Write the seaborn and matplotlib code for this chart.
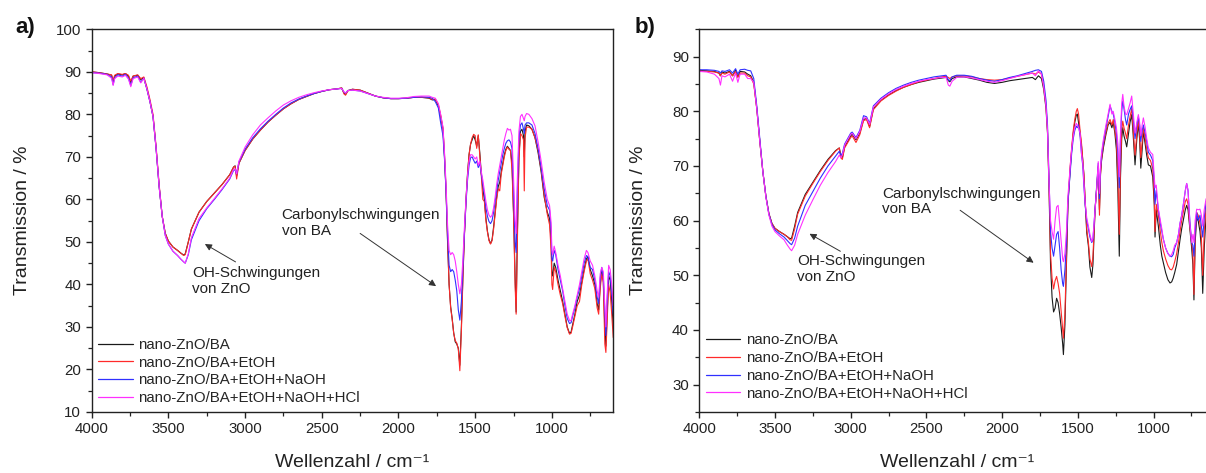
import numpy as np
import pandas as pd
import matplotlib
matplotlib.use("Agg")
import matplotlib.pyplot as plt
import seaborn as sns
from matplotlib.ticker import MultipleLocator

# ---------------- data ----------------
series_names = ["nano-ZnO/BA", "nano-ZnO/BA+EtOH",
                "nano-ZnO/BA+EtOH+NaOH", "nano-ZnO/BA+EtOH+NaOH+HCl"]
series_colors = ["#1a1a1a", "#ff2a2a", "#3030ff", "#ff30ff"]

x_ticks = [4000, 3500, 3000, 2500, 2000, 1500, 1000]
y_ticks_a = [10, 20, 30, 40, 50, 60, 70, 80, 90, 100]
y_ticks_b = [30, 40, 50, 60, 70, 80, 90]

wn_a = [4000, 3950, 3900, 3870, 3860, 3850, 3830, 3800, 3780, 3760, 3745, 3730, 3700, 3680, 3660,
        3640, 3620, 3600, 3580, 3560, 3540, 3520, 3500, 3470, 3440, 3420, 3400, 3390, 3370, 3350,
        3300, 3250, 3200, 3150, 3100, 3075, 3065, 3055, 3040, 3000, 2950, 2900, 2850, 2800, 2750,
        2700, 2650, 2600, 2550, 2500, 2450, 2400, 2370, 2355, 2345, 2330, 2300, 2250, 2200, 2150,
        2100, 2050, 2000, 1950, 1900, 1850, 1800, 1780, 1760, 1740, 1725, 1710, 1700, 1690, 1680,
        1670, 1660, 1650, 1640, 1630, 1620, 1610, 1600, 1590, 1580, 1570, 1560, 1550, 1540, 1530,
        1520, 1510, 1500, 1490, 1480, 1470, 1460, 1450, 1440, 1430, 1420, 1410, 1400, 1390, 1380,
        1370, 1360, 1350, 1340, 1330, 1320, 1310, 1300, 1290, 1280, 1270, 1260, 1250, 1240, 1233,
        1225, 1215, 1205, 1195, 1185, 1180, 1175, 1165, 1150, 1130, 1110, 1090, 1070, 1050, 1030,
        1015, 1005, 1000, 995, 985, 975, 960, 945, 930, 915, 900, 885, 875, 865, 850,
        835, 820, 805, 790, 775, 765, 750, 735, 720, 705, 695, 685, 675, 665, 655,
        648, 640, 630, 620, 610, 600]

a_black = [90.0, 89.8, 89.5, 89.2, 87.5, 89.0, 89.5, 89.3, 89.6, 89.0, 87.5, 89.0, 89.2, 88.2, 88.6,
           86.0, 83.0, 79.5, 72.0, 63.0, 56.0, 52.0, 50.2, 48.8, 48.0, 47.4, 46.9, 47.2, 50.0, 53.0,
           57.0, 59.5, 61.5, 63.5, 65.8, 67.6, 67.9, 65.5, 68.5, 71.5, 74.2, 76.3, 78.2, 79.8, 81.3,
           82.5, 83.5, 84.2, 84.9, 85.4, 85.8, 86.0, 86.2, 85.0, 84.7, 85.6, 85.9, 85.7, 85.0, 84.3,
           83.9, 83.7, 83.7, 83.8, 84.0, 84.0, 83.8, 83.4, 83.5, 82.0, 79.5, 76.5, 70.0, 62.0, 50.0,
           40.0, 34.8, 32.0, 28.6, 26.5, 26.0, 25.0, 21.0, 30.0, 42.0, 52.0, 60.0, 66.0, 70.5, 73.0,
           74.0, 75.0, 74.0, 72.5, 75.0, 71.0, 66.0, 62.5, 60.0, 55.5, 52.5, 50.5, 49.6, 50.5, 53.5,
           57.0, 60.5, 63.0, 64.0, 66.5, 68.5, 70.5, 71.8, 72.5, 72.0, 71.5, 68.5, 57.0, 42.0, 33.5,
           52.0, 70.0, 76.0, 76.5, 75.0, 70.0, 76.0, 77.5, 77.3, 76.5, 74.5, 71.0, 66.5, 60.5, 57.0,
           55.5, 50.0, 43.0, 42.0, 45.0, 44.0, 41.0, 38.5, 36.0, 33.0, 30.0, 28.5, 28.8, 30.5, 33.0,
           36.0, 37.5, 40.5, 43.5, 46.0, 46.5, 43.5, 42.0, 40.0, 35.5, 34.0, 40.0, 43.5, 41.0, 30.0,
           25.5, 33.0, 42.0, 41.0, 36.0, 30.0]

a_red = [90.0, 89.8, 89.5, 89.3, 88.0, 89.2, 89.6, 89.4, 89.6, 89.2, 87.8, 89.0, 89.3, 88.4, 88.8,
         86.5, 83.5, 80.0, 72.5, 63.5, 56.0, 52.0, 50.2, 48.8, 48.0, 47.4, 46.8, 47.0, 50.0, 53.0,
         57.0, 59.5, 61.5, 63.5, 65.8, 67.6, 67.8, 64.8, 68.5, 71.5, 74.2, 76.3, 78.2, 79.8, 81.3,
         82.5, 83.5, 84.2, 84.9, 85.4, 85.8, 86.0, 86.2, 84.8, 84.5, 85.5, 85.9, 85.7, 85.0, 84.3,
         83.9, 83.7, 83.7, 83.8, 84.0, 84.0, 83.9, 83.5, 83.6, 82.3, 79.8, 76.8, 70.5, 62.5, 50.5,
         40.0, 34.5, 31.8, 28.5, 26.8, 26.2, 24.8, 19.7, 29.0, 41.5, 51.5, 59.5, 65.5, 70.5, 73.0,
         74.5, 75.3, 75.0, 72.0, 75.2, 70.5, 65.5, 60.0, 59.5, 55.0, 52.3, 50.3, 49.5, 50.3, 53.0,
         56.5, 60.0, 62.5, 62.0, 66.0, 68.0, 70.0, 71.5, 72.3, 71.8, 71.5, 67.0, 56.5, 40.0, 33.0,
         50.0, 69.0, 75.5, 75.0, 74.0, 62.0, 74.5, 77.0, 77.0, 76.5, 74.5, 71.5, 67.0, 61.0, 56.5,
         54.0, 48.0, 40.0, 38.8, 44.0, 43.0, 40.0, 37.5, 35.5, 32.5, 29.8, 28.3, 28.5, 30.0, 32.5,
         35.0, 36.0, 40.0, 43.0, 45.5, 46.0, 42.5, 41.0, 39.0, 34.5, 33.0, 39.0, 42.5, 40.5, 26.0,
         24.0, 31.0, 40.0, 38.0, 33.0, 27.5]

a_blue = [89.8, 89.7, 89.4, 88.8, 87.0, 88.6, 89.3, 89.0, 89.4, 88.5, 86.8, 88.6, 89.0, 87.6, 88.5,
          86.0, 83.0, 79.5, 72.0, 63.0, 56.0, 51.5, 49.5, 47.8, 46.8, 46.0, 45.3, 45.0, 47.0, 50.5,
          55.0, 57.8, 60.0, 62.3, 64.8, 66.8, 67.0, 66.0, 68.8, 71.8, 74.5, 76.6, 78.4, 80.0, 81.5,
          82.7, 83.6, 84.3, 84.9, 85.4, 85.8, 86.0, 86.1, 85.2, 85.0, 85.6, 85.7, 85.5, 84.9, 84.3,
          83.9, 83.7, 83.7, 83.8, 84.0, 84.1, 84.0, 83.8, 83.0, 81.5, 78.0, 75.0, 69.5, 62.0, 52.0,
          44.5, 43.0, 43.5, 43.0, 41.0, 38.5, 34.0, 31.6, 36.0, 44.0, 52.0, 59.0, 64.5, 68.0, 69.8,
          70.0, 69.2, 68.5, 69.0, 67.5, 68.5, 66.0, 63.5, 61.0, 58.0, 56.0, 54.8, 54.3, 55.0, 57.0,
          59.5, 62.0, 64.5, 66.5, 68.5, 70.5, 72.0, 73.2, 73.8, 74.0, 73.5, 72.0, 62.0, 50.0, 47.5,
          62.0, 74.0, 77.5, 78.0, 76.5, 75.5, 77.5, 78.0, 78.0, 77.5, 75.5, 72.0, 67.5, 62.5, 58.5,
          57.5, 53.0, 46.0, 45.5, 48.0, 47.0, 43.5, 41.0, 38.5, 35.0, 32.0, 30.8, 31.0, 32.5, 34.5,
          37.0, 39.0, 42.0, 45.0, 46.8, 46.5, 44.0, 43.5, 41.0, 37.0, 35.5, 41.5, 44.0, 42.0, 34.0,
          28.0, 36.0, 43.0, 42.0, 38.0, 33.0]

a_magenta = [89.8, 89.6, 89.3, 88.5, 86.8, 88.4, 89.0, 88.8, 89.2, 88.3, 86.5, 88.4, 88.8, 87.4, 88.5,
             86.0, 83.0, 79.5, 72.0, 63.0, 56.0, 51.5, 49.5, 47.8, 46.8, 46.0, 45.3, 45.0, 47.2, 51.0,
             55.5, 58.0, 60.2, 62.5, 65.0, 67.0, 67.2, 66.0, 69.0, 72.3, 75.2, 77.5, 79.2, 80.8, 82.2,
             83.2, 84.0, 84.6, 85.1, 85.5, 85.8, 86.0, 86.1, 85.3, 85.0, 85.6, 85.7, 85.5, 84.9, 84.3,
             84.0, 83.8, 83.8, 83.9, 84.2, 84.3, 84.3, 84.0, 83.8, 82.5, 80.0, 77.0, 71.0, 63.5, 54.0,
             48.0, 47.0, 47.5, 47.0, 45.5, 43.0, 40.0, 37.8, 40.0, 46.0, 53.5, 60.0, 65.5, 69.0, 70.5,
             70.5, 70.0, 69.5, 70.0, 68.0, 69.0, 66.5, 64.5, 62.0, 59.5, 57.5, 56.3, 55.8, 56.3, 58.0,
             60.5, 63.5, 66.0, 68.0, 70.0, 72.0, 74.0, 75.5, 76.7, 76.3, 76.5, 75.0, 65.0, 55.0, 52.0,
             65.0, 76.0, 79.5, 80.0, 79.0, 78.5, 79.5, 80.2, 80.0, 79.0, 77.3, 73.5, 69.0, 64.0, 60.0,
             58.5, 54.5, 48.0, 47.0, 49.0, 47.5, 44.5, 42.0, 39.0, 36.0, 33.0, 31.5, 31.5, 33.0, 35.0,
             37.5, 40.0, 43.0, 46.0, 48.0, 47.5, 45.5, 44.5, 42.0, 38.5, 37.0, 42.5, 44.0, 43.0, 35.0,
             30.0, 37.5, 44.5, 43.5, 40.0, 35.0]

wn_b = [4000, 3950, 3900, 3870, 3860, 3850, 3830, 3800, 3780, 3760, 3745, 3730, 3700, 3680, 3660,
        3640, 3620, 3600, 3580, 3560, 3540, 3520, 3500, 3470, 3440, 3420, 3400, 3390, 3370, 3350,
        3300, 3250, 3200, 3150, 3100, 3075, 3065, 3055, 3040, 3000, 2990, 2965, 2940, 2915, 2895,
        2875, 2850, 2800, 2750, 2700, 2650, 2600, 2550, 2500, 2450, 2400, 2370, 2355, 2345, 2330,
        2300, 2250, 2200, 2150, 2100, 2050, 2000, 1950, 1900, 1850, 1800, 1780, 1760, 1740, 1725,
        1710, 1700, 1690, 1680, 1670, 1660, 1650, 1640, 1630, 1620, 1610, 1600, 1595, 1585, 1575,
        1565, 1550, 1540, 1530, 1520, 1510, 1503, 1495, 1485, 1475, 1467, 1460, 1452, 1441, 1430,
        1420, 1408, 1400, 1386, 1375, 1365, 1357, 1350, 1343, 1330, 1314, 1300, 1287, 1275, 1266,
        1255, 1245, 1235, 1226, 1218, 1210, 1203, 1195, 1185, 1177, 1165, 1155, 1144, 1135, 1122,
        1110, 1100, 1092, 1084, 1075, 1067, 1055, 1045, 1034, 1020, 1005, 995, 990, 982, 968,
        955, 945, 935, 920, 905, 891, 880, 870, 860, 847, 835, 825, 814, 800, 790,
        781, 772, 760, 748, 740, 733, 725, 715, 705, 693, 684, 675, 665, 653, 640,
        620, 600]

b_black = [87.5, 87.4, 87.3, 87.0, 86.5, 87.2, 87.0, 87.3, 86.5, 87.5, 86.3, 87.3, 87.2, 86.8, 86.5,
           85.3, 80.5, 74.5, 69.0, 64.5, 61.3, 59.5, 58.6, 58.0, 57.5, 57.1, 56.7, 56.8, 59.0, 61.5,
           64.8, 67.0, 69.2, 71.2, 72.8, 73.3, 72.0, 71.5, 73.5, 75.5, 75.8, 74.8, 76.0, 78.5, 78.7,
           77.2, 80.5, 82.0, 83.0, 83.8, 84.4, 84.9, 85.3, 85.6, 85.9, 86.1, 86.2, 85.6, 85.4, 86.0,
           86.3, 86.3, 86.0, 85.7, 85.3, 85.1, 85.3, 85.6, 85.8, 86.0, 86.2, 85.8, 86.5, 86.0, 84.0,
           80.5, 76.0, 66.0, 52.0, 46.0, 43.3, 44.0, 45.8, 45.0, 43.0, 40.5, 37.5, 35.5, 41.0, 52.0,
           63.0, 69.5, 73.0, 76.0, 78.0, 79.3, 79.5, 78.0, 76.0, 73.5, 71.0, 68.5, 64.0, 57.8, 55.4,
           51.5, 49.6, 52.0, 62.0, 66.0, 69.8, 62.0, 68.5, 71.0, 73.5, 75.8, 77.5, 78.0, 77.0, 78.0,
           76.0, 73.0, 65.0, 53.5, 68.0, 75.0, 77.0, 75.5, 74.5, 73.5, 76.0, 78.0, 79.4, 76.0, 70.2,
           75.0, 77.8, 75.0, 69.6, 73.0, 76.4, 74.0, 72.0, 70.2, 70.0, 68.0, 63.0, 57.0, 62.0, 59.0,
           55.5, 53.5, 52.3, 50.5, 49.2, 48.6, 48.8, 49.5, 50.5, 52.0, 54.5, 56.5, 58.5, 60.5, 62.0,
           62.8, 62.0, 58.5, 55.0, 52.0, 45.5, 56.0, 60.5, 60.0, 58.0, 55.0, 46.7, 55.0, 61.0, 60.0,
           57.0, 55.0]

b_red = [87.4, 87.3, 87.2, 87.0, 86.5, 87.0, 86.8, 87.2, 86.5, 87.3, 86.2, 87.0, 87.0, 86.5, 86.3,
         85.0, 80.5, 74.5, 69.0, 64.5, 61.3, 59.5, 58.6, 58.0, 57.5, 57.1, 56.5, 56.4, 58.5, 61.2,
         64.5, 66.8, 69.0, 71.0, 72.7, 73.3, 71.5, 71.2, 73.3, 75.2, 75.5, 74.3, 75.7, 78.3, 78.5,
         77.0, 80.3, 81.9, 82.9, 83.7, 84.4, 84.9, 85.4, 85.7, 86.0, 86.3, 86.4, 86.2, 86.0, 86.3,
         86.5, 86.5, 86.3, 86.0, 85.8, 85.7, 85.8, 86.1, 86.4, 86.7, 87.0, 86.8, 87.2, 86.8, 84.5,
         81.0, 76.5, 66.5, 54.0, 49.5, 47.5, 49.0, 49.8, 48.5, 46.7, 43.5, 40.5, 38.5, 43.0, 53.0,
         63.5, 70.0, 73.5, 76.5, 78.5, 80.0, 80.5, 79.5, 76.5, 74.0, 71.0, 68.5, 64.0, 58.5, 56.0,
         53.0, 51.6, 53.5, 62.0, 66.0, 70.0, 61.0, 68.5, 71.3, 74.0, 76.2, 77.8, 78.5, 77.5, 78.5,
         76.5, 74.5, 68.0, 57.5, 70.0, 76.5, 78.2, 77.0, 76.0, 75.0, 77.5, 79.0, 80.5, 77.0, 72.0,
         76.0, 78.5, 76.0, 71.5, 74.5, 77.0, 75.0, 73.0, 71.5, 71.0, 69.5, 64.0, 58.0, 63.0, 61.0,
         58.0, 56.0, 54.5, 53.0, 51.8, 51.1, 51.0, 51.5, 52.5, 54.0, 56.0, 58.0, 60.0, 62.0, 63.5,
         64.0, 63.0, 59.0, 56.0, 54.0, 46.5, 57.0, 61.5, 61.0, 59.5, 57.0, 50.0, 58.0, 62.5, 61.0,
         58.5, 57.0]

b_blue = [87.6, 87.6, 87.5, 87.3, 87.0, 87.4, 87.3, 87.6, 87.0, 87.8, 86.8, 87.6, 87.7, 87.5, 87.4,
          86.0, 81.0, 75.0, 69.0, 64.5, 61.2, 59.3, 58.3, 57.6, 57.0, 56.4, 55.8, 55.6, 56.8, 59.0,
          62.8, 65.3, 67.8, 70.0, 71.8, 72.7, 72.0, 72.3, 74.0, 76.0, 76.2, 75.2, 76.5, 79.2, 79.0,
          77.8, 81.0, 82.4, 83.4, 84.2, 84.8, 85.3, 85.7, 86.0, 86.3, 86.5, 86.6, 85.8, 85.6, 86.3,
          86.6, 86.6, 86.4, 86.0, 85.7, 85.5, 85.8, 86.2, 86.5, 86.9, 87.3, 87.5, 87.6, 87.3, 85.5,
          82.0, 77.5, 68.0, 58.0, 55.0, 53.5, 55.5, 57.5, 58.0, 55.0, 51.0, 48.5, 48.0, 51.0, 56.0,
          63.5, 69.0, 72.5, 75.0, 76.5, 77.3, 77.0, 77.5, 75.5, 72.0, 70.0, 66.5, 63.0, 60.0, 58.5,
          57.0, 56.0, 56.5, 62.0, 66.5, 70.5, 64.0, 69.5, 72.0, 74.5, 77.0, 79.0, 81.0, 80.0, 79.5,
          78.0, 76.0, 72.0, 66.0, 75.0, 80.0, 81.9, 80.5, 78.5, 77.5, 79.5, 80.3, 81.0, 79.0, 75.0,
          77.5, 79.0, 77.5, 74.5, 76.5, 77.5, 76.0, 74.5, 72.5, 72.0, 71.0, 67.0, 63.0, 65.5, 62.0,
          59.5, 58.0, 56.6, 55.0, 54.0, 53.5, 53.4, 53.8, 55.0, 56.0, 57.5, 59.5, 61.0, 63.5, 65.5,
          66.8, 65.5, 60.0, 56.0, 55.5, 53.5, 58.0, 61.5, 60.0, 61.0, 59.0, 57.0, 60.5, 63.5, 62.0,
          60.0, 58.5]

b_magenta = [87.3, 87.2, 86.8, 86.0, 84.8, 86.5, 86.3, 86.8, 85.5, 87.0, 85.3, 86.8, 86.8, 86.0, 86.0,
             85.3, 80.5, 74.5, 69.0, 64.3, 61.0, 59.0, 58.0, 57.2, 56.5, 55.6, 54.8, 54.5, 55.5, 57.5,
             61.0, 63.8, 66.5, 68.8, 70.8, 72.0, 71.5, 72.0, 73.8, 75.8, 76.0, 75.0, 76.3, 78.8, 78.8,
             77.6, 80.8, 82.2, 83.2, 84.0, 84.6, 85.1, 85.5, 85.8, 86.0, 86.2, 86.2, 84.8, 84.6, 85.5,
             86.2, 86.3, 86.1, 85.8, 85.5, 85.3, 85.6, 86.0, 86.4, 86.7, 87.0, 86.5, 87.4, 86.8, 84.5,
             81.0, 76.5, 67.0, 60.0, 58.0, 56.6, 60.0, 62.5, 62.8, 59.5, 56.0, 53.0, 52.5, 54.0, 58.0,
             64.5, 70.0, 73.3, 75.5, 77.0, 77.8, 77.5, 77.0, 76.0, 72.0, 70.5, 67.0, 63.5, 60.5, 59.0,
             57.5, 56.2, 56.8, 62.0, 66.0, 70.8, 65.0, 70.0, 72.5, 75.0, 77.5, 79.5, 81.3, 79.5, 80.0,
             78.5, 77.0, 74.0, 68.0, 76.0, 81.5, 83.1, 81.0, 79.5, 79.4, 80.5, 81.5, 82.8, 80.0, 76.0,
             78.0, 79.4, 78.0, 75.5, 77.5, 78.8, 77.0, 75.0, 73.3, 72.5, 72.1, 68.0, 66.0, 66.5, 62.1,
             60.0, 58.5, 56.6, 55.0, 54.0, 53.5, 53.8, 54.5, 55.5, 56.0, 57.5, 59.5, 60.9, 63.5, 65.5,
             66.8, 65.5, 59.5, 56.0, 57.5, 56.0, 60.0, 62.1, 62.0, 62.1, 61.0, 59.0, 62.0, 64.0, 63.0,
             61.5, 60.0]

panels = [
    dict(tag="a)", wn=wn_a, ys=[a_black, a_red, a_blue, a_magenta], ylim=(10, 100), yticks=y_ticks_a,
         carb_text=(2761, 58.0), carb_tail=(2250, 52.0), carb_head=(1755, 39.6),
         oh_text=(3346, 44.3), oh_tail=(3062, 45.3), oh_head=(3262, 49.5), leg_y=0.0),
    dict(tag="b)", wn=wn_b, ys=[b_black, b_red, b_blue, b_magenta], ylim=(25, 95), yticks=y_ticks_b,
         carb_text=(2792, 66.2), carb_tail=(2277, 61.9), carb_head=(1792, 52.3),
         oh_text=(3354, 53.9), oh_tail=(3068, 54.4), oh_head=(3272, 57.6), leg_y=0.012),
]

# ---------------- style ----------------
sns.set_theme(style="ticks")
plt.rcParams["font.family"] = ["Liberation Sans", "DejaVu Sans"]
plt.rcParams["axes.linewidth"] = 1.0
plt.rcParams["axes.edgecolor"] = "#222222"
plt.rcParams["xtick.color"] = "#222222"
plt.rcParams["ytick.color"] = "#222222"

fig = plt.figure(figsize=(12.06, 4.73), dpi=100)
axes = [fig.add_axes([0.0760, 0.129, 0.4325, 0.809]),
        fig.add_axes([0.5798, 0.129, 0.4269, 0.809])]
tag_x = [0.013, 0.526]

for ax, p, tx in zip(axes, panels, tag_x):
    frames = [pd.DataFrame({"wn": p["wn"], "T": y, "sample": name})
              for name, y in zip(series_names, p["ys"])]
    df = pd.concat(frames, ignore_index=True)
    sns.lineplot(data=df, x="wn", y="T", hue="sample", hue_order=series_names,
                 palette=series_colors, sort=False, estimator=None,
                 linewidth=0.8, ax=ax)
    ax.set_xlim(4000, 600)
    ax.set_ylim(*p["ylim"])
    ax.set_xticks(x_ticks)
    ax.set_yticks(p["yticks"])
    ax.xaxis.set_minor_locator(MultipleLocator(250))
    ax.yaxis.set_minor_locator(MultipleLocator(5))
    ax.tick_params(which="major", direction="out", length=4.5, width=1.0,
                   labelsize=10.8, pad=3, labelcolor="#222222")
    ax.tick_params(which="minor", direction="out", length=2.6, width=0.9)
    ax.set_xlabel("Wellenzahl / cm\u207b\u00b9", fontsize=14, labelpad=13, color="#222222")
    ax.set_ylabel("Transmission / %", fontsize=14, labelpad=18, color="#222222")
    for s in ax.spines.values():
        s.set_visible(True)

    h, l = ax.get_legend_handles_labels()
    for hh in h:
        hh.set_linewidth(0.9)
    ax.legend(h, l, loc="lower left", bbox_to_anchor=(0.0, p["leg_y"]), frameon=False,
              fontsize=10.8, handlelength=2.3, handletextpad=0.35, labelspacing=0.25,
              borderpad=0.45, borderaxespad=0.0)

    ax.text(*p["carb_text"], "Carbonylschwingungen\nvon BA", fontsize=11, ha="left", va="top",
            color="#222222", linespacing=1.15)
    ax.annotate("", xy=p["carb_head"], xytext=p["carb_tail"],
                arrowprops=dict(arrowstyle="-|>", lw=0.7, color="#333333",
                                mutation_scale=10, shrinkA=0, shrinkB=0))
    ax.text(*p["oh_text"], "OH-Schwingungen\nvon ZnO", fontsize=11, ha="left", va="top",
            color="#222222", linespacing=1.15)
    ax.annotate("", xy=p["oh_head"], xytext=p["oh_tail"],
                arrowprops=dict(arrowstyle="-|>", lw=0.7, color="#333333",
                                mutation_scale=10, shrinkA=0, shrinkB=0))
    fig.text(tx, 0.942, p["tag"], fontsize=16, fontweight="bold", va="center", ha="left",
             color="#111111")

fig.savefig("out.png", dpi=100)
